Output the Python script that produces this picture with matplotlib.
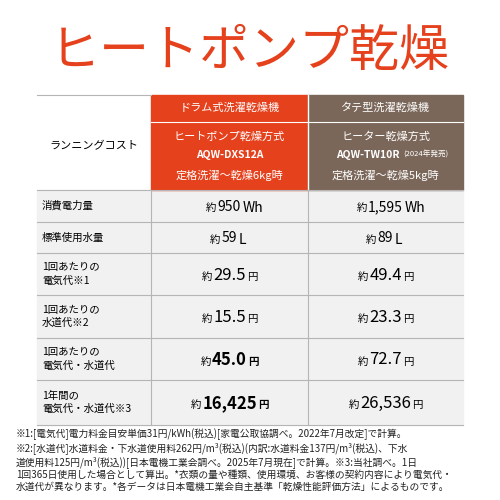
import matplotlib
matplotlib.use("Agg")
import matplotlib.pyplot as plt
from matplotlib.patches import Rectangle

plt.rcParams['font.family'] = ['Noto Sans CJK JP', 'DejaVu Sans']

RED = "#e5411d"
BROWN = "#7b675a"
GRAY_BG = "#f1f1f1"
LINE = "#b5b5b5"

title = "ヒートポンプ乾燥"
row_labels = ["消費電力量", "標準使用水量", "1回あたりの\n電気代※1", "1回あたりの\n水道代※2",
              "1回あたりの\n電気代・水道代", "1年間の\n電気代・水道代※3"]
drum_values = ["950", "59", "29.5", "15.5", "45.0", "16,425"]
tate_values = ["1,595", "89", "49.4", "23.3", "72.7", "26,536"]
units = ["Wh", "L", "円", "円", "円", "円"]
bold_drum = [False, False, False, False, True, True]
footnote = ("※1:[電気代]電力料金目安単価31円/kWh(税込)[家電公取協調べ。2022年7月改定]で計算。\n"
            "※2:[水道代]水道料金・下水道使用料262円/m³(税込)(内訳:水道料金137円/m³(税込)、下水\n"
            "道使用料125円/m³(税込))[日本電機工業会調べ。2025年7月現在]で計算。※3:当社調べ。1日\n"
            "1回365日使用した場合として算出。*衣類の量や種類、使用環境、お客様の契約内容により電気代・\n"
            "水道代が異なります。*各データは日本電機工業会自主基準「乾燥性能評価方法」によるものです。")

fig = plt.figure(figsize=(5, 5), dpi=100)
ax = fig.add_axes([0, 0, 1, 1])
ax.set_xlim(0, 500)
ax.set_ylim(500, 0)
ax.axis("off")

ax.text(250, 52, title, color=RED, fontsize=36, ha="center", va="center")

x0, x1, x2, x3 = 37, 151, 308, 463
# header
ax.add_patch(Rectangle((x1, 95), x2 - x1, 95, color=RED))
ax.add_patch(Rectangle((x2, 95), x3 - x2, 95, color=BROWN))
ax.plot([x1, x3], [122, 122], color="white", lw=0.8)
ax.plot([x2, x2], [95, 190], color="white", lw=1)
ax.plot([x0, x1], [95, 95], color=LINE, lw=0.8)
cx1, cx2 = (x1 + x2) / 2, (x2 + x3) / 2
ax.text(cx1, 108, "ドラム式洗濯乾燥機", color="white", fontsize=8, ha="center", va="center")
ax.text(cx2, 108, "タテ型洗濯乾燥機", color="white", fontsize=8, ha="center", va="center")
ax.text(94, 146, "ランニングコスト", fontsize=8, ha="center", va="center")
ax.text(cx1, 137, "ヒートポンプ乾燥方式", color="white", fontsize=8, ha="center", va="center")
ax.text(cx1, 155, "AQW-DXS12A", color="white", fontsize=7.5, ha="center", va="center", weight="bold")
ax.text(cx1, 175, "定格洗濯～乾燥6kg時", color="white", fontsize=8, ha="center", va="center")
ax.text(cx2, 137, "ヒーター乾燥方式", color="white", fontsize=8, ha="center", va="center")
ax.text(cx2 - 18, 155, "AQW-TW10R", color="white", fontsize=7.5, ha="center", va="center", weight="bold")
ax.text(cx2 + 40, 155, "(2024年発売)", color="white", fontsize=5.5, ha="center", va="center")
ax.text(cx2, 175, "定格洗濯～乾燥5kg時", color="white", fontsize=8, ha="center", va="center")

# body
edges = [190, 222, 253, 295, 338, 380, 425]
ax.add_patch(Rectangle((x0, 190), x3 - x0, 235, color=GRAY_BG, zorder=0))
for y in edges:
    ax.plot([x0, x3], [y, y], color=LINE, lw=0.8)
ax.plot([x1, x1], [190, 425], color=LINE, lw=0.8)
ax.plot([x2, x2], [190, 425], color=LINE, lw=0.8)

for i, lab in enumerate(row_labels):
    ym = (edges[i] + edges[i + 1]) / 2
    ax.text(x0 + 5, ym, lab, fontsize=7.5, ha="left", va="center", linespacing=1.4)
    for cx, val, bold in ((cx1, drum_values[i], bold_drum[i]), (cx2, tate_values[i], False)):
        big = 10 if i < 2 else 12
        w = "bold" if bold else "normal"
        t = ax.text(cx, ym + 1, val, fontsize=big, ha="center", va="center", weight=w)
        ax.annotate("約", xy=(0, 0.4), xycoords=t, xytext=(-1, 0), textcoords="offset points",
                    fontsize=7.5, ha="right", va="center")
        ax.annotate(units[i], xy=(1, 0.4), xycoords=t, xytext=(1, 0), textcoords="offset points",
                    fontsize=7.5 if units[i] == "円" else big, ha="left", va="center", weight=w)

ax.text(16, 428, footnote, fontsize=7.0, ha="left", va="top", linespacing=1.25, color="#222222")

fig.savefig("out.png", dpi=100, facecolor="white")
